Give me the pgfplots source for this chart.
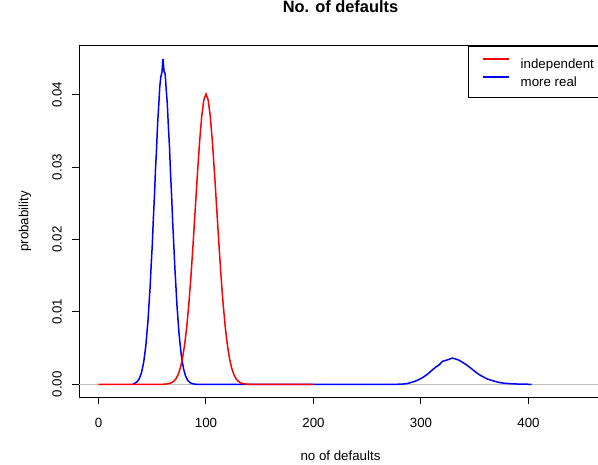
\documentclass[border=0pt]{standalone}
\usepackage{fontspec}
\setmainfont{Liberation Sans}
\usepackage{pgfplots}
\pgfplotsset{compat=1.18}
\definecolor{rgray}{RGB}{190,190,190}
\newcommand{\lab}{\fontsize{13.3bp}{16bp}\selectfont}
\begin{document}
\begin{tikzpicture}
\useasboundingbox (0,0) rectangle (598bp,465bp);
\clip (0,0) rectangle (598bp,465bp);
\begin{axis}[
  at={(79bp,68bp)}, anchor=south west,
  scale only axis, width=523bp, height=351bp,
  xmin=-18.14, xmax=468.4, ymin=-0.00175, ymax=0.04673,
  xtick={0,100,200,300,400}, ytick={0,0.01,0.02,0.03,0.04},
  scaled y ticks=false,
  axis line style={line width=1bp},
  tick style={line width=1bp, black},
  tick align=outside, major tick length=7bp,
  xtick pos=left, ytick pos=left,
  /pgf/number format/assume math mode=true,
  tick label style={font=\lab},
  yticklabel style={/pgf/number format/fixed, /pgf/number format/fixed zerofill, /pgf/number format/precision=2, rotate=90, anchor=south, inner sep=0pt},
  xticklabel style={anchor=north, inner sep=0pt},
  xticklabel shift=14bp, yticklabel shift=10bp,
  title={No. of defaults},
  title style={at={(axis description cs:0.5,1.0789)}, anchor=base, font=\bfseries\fontsize{16.4bp}{19bp}\selectfont},
  xlabel={no of defaults},
  xlabel style={at={(axis description cs:0.5,-0.1823)}, anchor=base, font=\lab},
  ylabel={probability},
  ylabel style={at={(axis description cs:-0.0969,0.5)}, anchor=base, font=\lab},
  reverse legend,
  legend image code/.code={\draw[#1] (0bp,4bp) -- (25.6bp,4bp);},
  legend style={at={(axis description cs:0.7444,1)}, anchor=north west,
    draw=black, line width=1bp, font=\lab,
    inner xsep=13.4bp, inner ysep=8.5bp, row sep=2bp, column sep=11.4bp,
    nodes={inner sep=0pt, text height=14bp, text depth=2bp}},
  legend cell align=left,
]
\addplot[forget plot, rgray, line width=1bp] coordinates {(-18.14,0) (468.4,0)};
\addplot[blue, line width=1.5bp] coordinates {
(32,0.00005) (33,0.00012) (34,0.00015) (35,0.00028) (36,0.00036) (37,0.00060)
(38,0.00079) (39,0.00121) (40,0.00160) (41,0.00231) (42,0.00301) (43,0.00415)
(44,0.00530) (45,0.00702) (46,0.00870) (47,0.01112) (48,0.01338) (49,0.01645)
(50,0.01915) (51,0.02280) (52,0.02585) (53,0.02960) (54,0.03250) (55,0.03600)
(56,0.03840) (57,0.04110) (58,0.04250) (59,0.04310) (60,0.04490) (61,0.04320)
(62,0.04290) (63,0.04070) (64,0.03880) (65,0.03560) (66,0.03290) (67,0.02920)
(68,0.02610) (69,0.02240) (70,0.01940) (71,0.01620) (72,0.01360) (73,0.01090)
(74,0.00885) (75,0.00688) (76,0.00542) (77,0.00404) (78,0.00310) (79,0.00223)
(80,0.00167) (81,0.00114) (82,0.00085) (83,0.00055) (84,0.00040) (85,0.00025)
(86,0.00018) (87,0.00010) (88,0.00007) (89,0.00004) (90,0.00002) (91,0.00001)
(92,0) (150,0) (200,0) (250,0) (276,0)
(280,0.00002) (284,0.00005) (287,0.00010) (290,0.00022) (293,0.00035) (296,0.00052)
(299,0.00072) (302,0.00098) (305,0.00128) (308,0.00165) (311,0.00205) (314,0.00240)
(317,0.00270) (320,0.00318) (323,0.00330) (326,0.00345) (329,0.00362) (332,0.00352)
(335,0.00335) (338,0.00310) (341,0.00282) (344,0.00250) (347,0.00215) (350,0.00180)
(353,0.00145) (356,0.00118) (359,0.00095) (362,0.00072) (365,0.00058) (368,0.00045)
(371,0.00032) (374,0.00022) (377,0.00016) (380,0.00012) (383,0.00009) (386,0.00006)
(390,0.00004) (395,0.00002) (400,0.00001) (403,0)
};
\addlegendentry{more real}
\addplot[red, line width=1.5bp] coordinates {
(0,0) (50,0) (56,0.000002) (60,0.00001) (62,0.000027) (64,0.000058) (66,0.000117)
(68,0.000227) (70,0.000426) (72,0.000764) (74,0.00132) (76,0.00219) (78,0.00348)
(80,0.00532) (82,0.00781) (84,0.0110) (86,0.0149) (88,0.0194) (90,0.0242)
(92,0.0290) (94,0.0334) (96,0.0370) (98,0.0393) (100,0.0401) (102,0.0393)
(104,0.0370) (106,0.0334) (108,0.0290) (110,0.0242) (112,0.0194) (114,0.0149)
(116,0.0110) (118,0.00781) (120,0.00532) (122,0.00348) (124,0.00219) (126,0.00132)
(128,0.000764) (130,0.000426) (132,0.000227) (134,0.000117) (136,0.000058)
(138,0.000027) (140,0.00001) (146,0.000002) (150,0) (200,0)
};
\addlegendentry{independent}
\end{axis}
\end{tikzpicture}
\end{document}
